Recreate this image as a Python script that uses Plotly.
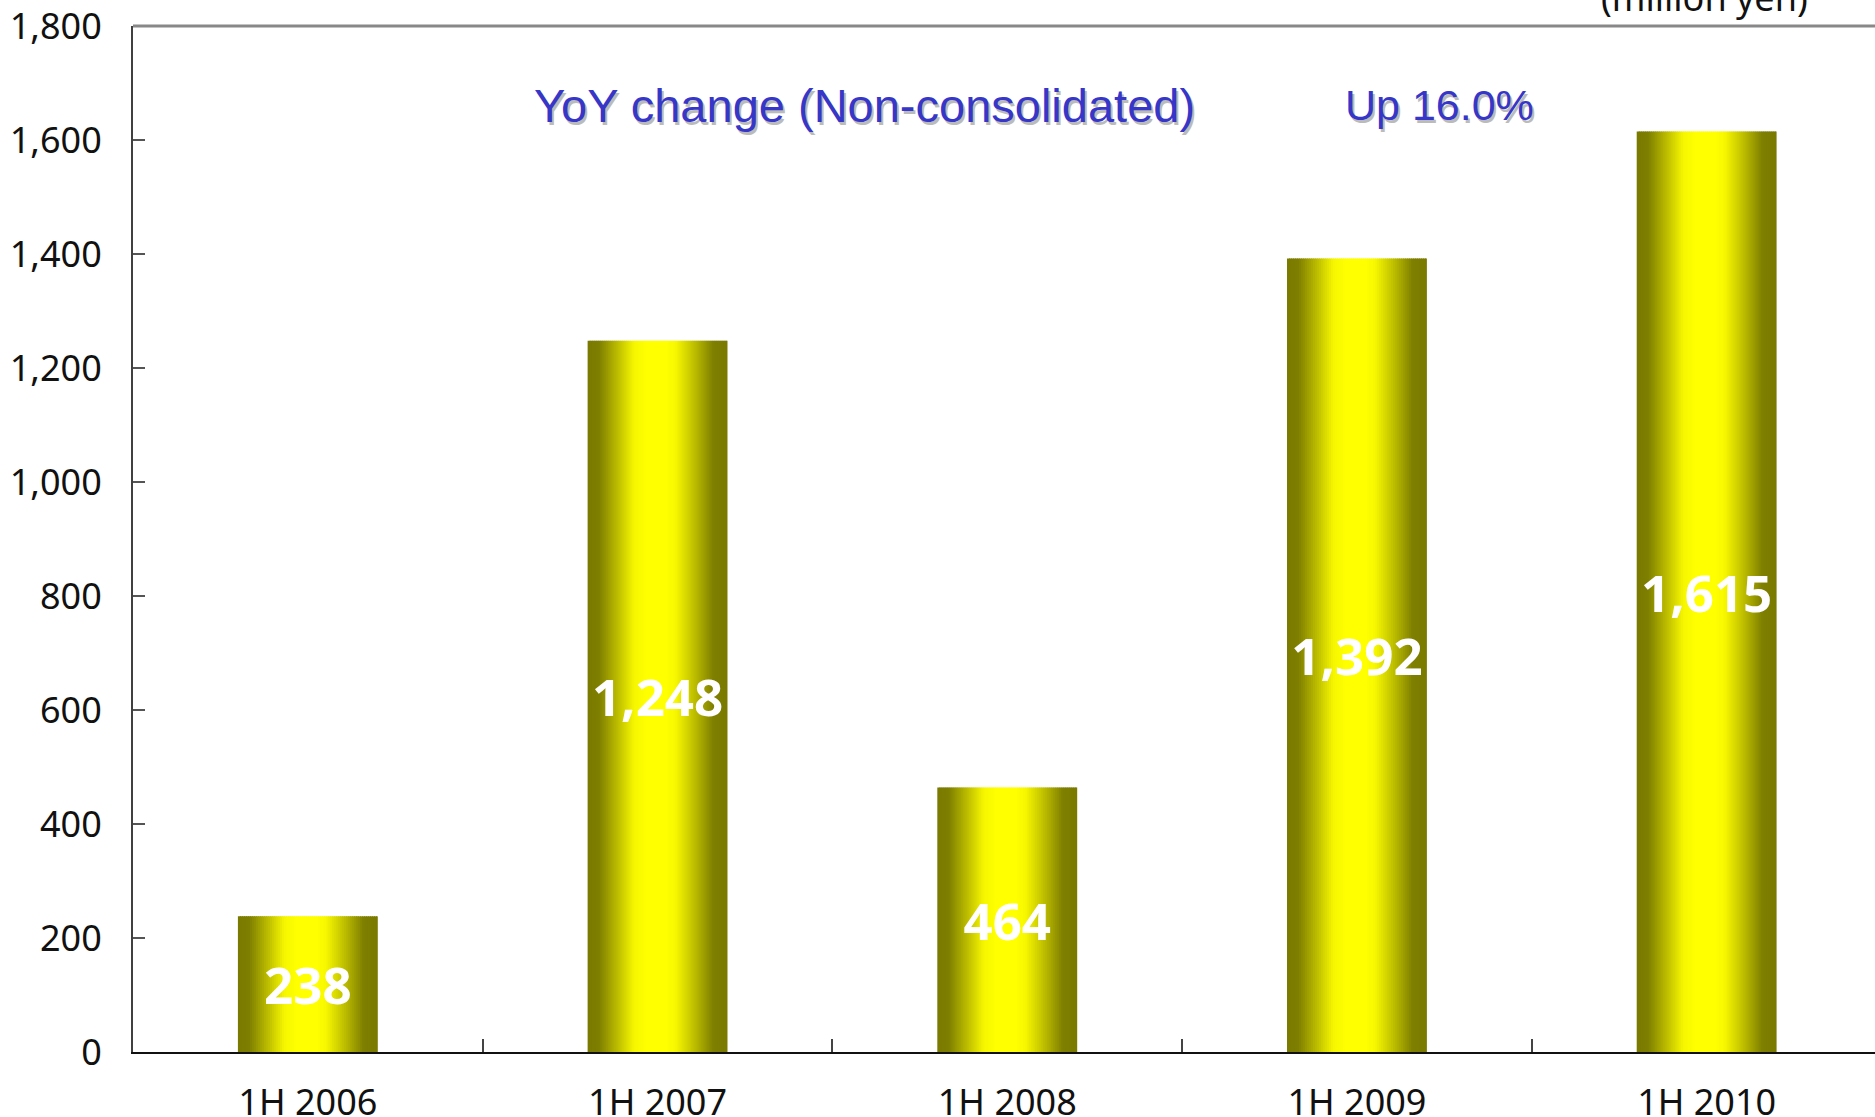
import plotly.graph_objects as go

# ---- data ----
categories = ["1H 2006", "1H 2007", "1H 2008", "1H 2009", "1H 2010"]
values = [238, 1248, 464, 1392, 1615]
y_ticks = [0, 200, 400, 600, 800, 1000, 1200, 1400, 1600, 1800]
title_text = "YoY change (Non-consolidated)"
change_text = "Up 16.0%"
unit_text = "(million yen)"

# ---- style ----
W, H = 1875, 1117
ML, MT, MB, MR = 133, 26, 65, 0
cat_px = 349.7
plot_w = W - ML - MR
x_max = -0.5 + plot_w / cat_px
bar_w = 0.4

olive = (122, 122, 0)
yellow = (255, 255, 0)
stops = [(0.0, 0.0), (0.08, 0.03), (0.2, 0.45), (0.33, 0.93), (0.42, 1.0),
         (0.56, 1.0), (0.63, 0.94), (0.76, 0.52), (0.9, 0.03), (1.0, 0.0)]


def shade(t):
    for (t0, k0), (t1, k1) in zip(stops[:-1], stops[1:]):
        if t0 <= t <= t1:
            k = k0 + (k1 - k0) * (t - t0) / (t1 - t0)
            break
    else:
        k = 0
    c = [round(o + k * (yl - o)) for o, yl in zip(olive, yellow)]
    return f"rgb({c[0]},{c[1]},{c[2]})"


fig = go.Figure()
N = 70
step = bar_w / N
for i in range(N):
    t = (i + 0.5) / N
    w = step if i == N - 1 else step * 1.6
    fig.add_trace(go.Bar(
        x=categories, y=values, width=w, offset=-bar_w / 2 + i * step,
        marker=dict(color=shade(t), line=dict(width=0)),
        hoverinfo="skip", showlegend=False))

# label trace
fig.add_trace(go.Bar(
    x=categories, y=values, width=bar_w, offset=-bar_w / 2,
    marker=dict(color="rgba(0,0,0,0)", line=dict(width=0)),
    text=[f"{v:,}" for v in values], textposition="inside",
    insidetextanchor="middle", textangle=0, constraintext="none",
    textfont=dict(family="Noto Sans", size=51, color="white", weight="bold"),
    showlegend=False))

tick_font = dict(family="Noto Sans", size=36, color="#111111")

fig.update_layout(
    width=W, height=H, autosize=False,
    margin=dict(l=ML, r=MR, t=MT, b=MB, pad=0, autoexpand=False),
    paper_bgcolor="white", plot_bgcolor="white",
    barmode="overlay", showlegend=False,
    xaxis=dict(type="category", range=[-0.5, x_max], showline=True,
               linecolor="#111111", linewidth=2, ticks="inside",
               tickson="boundaries", ticklen=13, tickcolor="#444444",
               tickwidth=1.5, showgrid=False, zeroline=False,
               tickfont=tick_font, ticklabelstandoff=18, automargin=False),
    yaxis=dict(range=[0, 1800], tickvals=y_ticks, tickformat=",",
               showline=True, linecolor="#404040", linewidth=2,
               ticks="inside", ticklen=12, tickcolor="#555555", tickwidth=2,
               showgrid=False, zeroline=False, tickfont=tick_font,
               ticklabelstandoff=22, automargin=False),
    shapes=[dict(type="line", xref="paper", yref="paper", x0=0, x1=1,
                 y0=1, y1=1, line=dict(color="#888888", width=3))],
)

for txt, xp, sz in [(title_text, 0.420, 47), (change_text, 0.750, 43)]:
    fig.add_annotation(text=txt, xref="paper", yref="paper", x=xp, y=0.923,
                       showarrow=False, xanchor="center", yanchor="middle",
                       xshift=2, yshift=-3,
                       font=dict(family="Liberation Sans", size=sz,
                                 color="#BBBBBB"))
    fig.add_annotation(text=txt, xref="paper", yref="paper", x=xp, y=0.923,
                       showarrow=False, xanchor="center", yanchor="middle",
                       font=dict(family="Liberation Sans", size=sz,
                                 color="#3636C8"))

fig.add_annotation(text=unit_text, xref="paper", yref="paper", x=0.902,
                   y=1.028, showarrow=False, xanchor="center",
                   yanchor="middle", font=tick_font)

fig.write_html("out.html", config={"displayModeBar": False},
               post_script="document.body.style.margin='0';")
